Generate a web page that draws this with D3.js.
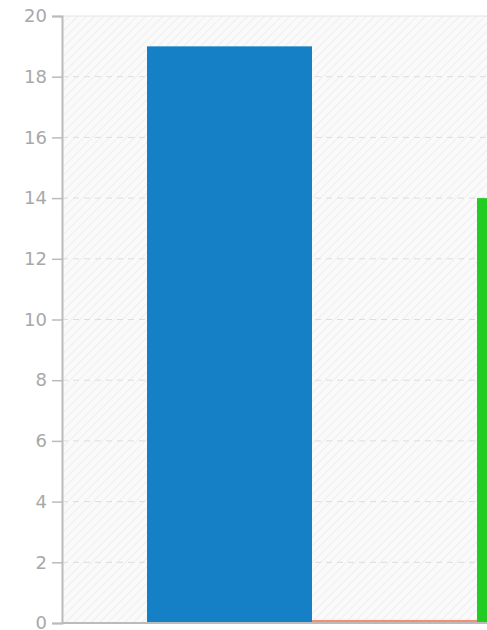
<!DOCTYPE html>
<html><head><meta charset="utf-8">
<script src="https://cdn.jsdelivr.net/npm/d3@7"></script>
<style>html,body{margin:0;padding:0;background:#fff;overflow:hidden}</style>
</head><body>
<script>
const categories = ["A", "B", "C"];
const values = [19, 0.1, 14];
const colors = ["#1580c6", "#f0907a", "#22cc22"];
const yTicks = [0, 2, 4, 6, 8, 10, 12, 14, 16, 18, 20];

(function () {
const W = 487, H = 630;
const svg = d3.select("body").append("svg").attr("width", W).attr("height", H);
const mLeft = 62, mTop = 16, mBottom = 623, rightExt = 727;

const defs = svg.append("defs");
const pat = defs.append("pattern").attr("id", "hatch").attr("patternUnits", "userSpaceOnUse")
  .attr("width", 6).attr("height", 6).attr("patternTransform", "rotate(45)");
pat.append("rect").attr("width", 6).attr("height", 6).attr("fill", "#fafafa");
pat.append("line").attr("x1", 0).attr("y1", 0).attr("x2", 0).attr("y2", 6)
  .attr("stroke", "#eeeeee").attr("stroke-width", 2);

const x = d3.scaleBand().domain(categories).range([mLeft, rightExt]).paddingInner(0).paddingOuter(85 / 165);
const y = d3.scaleLinear().domain([0, 20]).range([mBottom, mTop]);

svg.append("rect").attr("x", mLeft).attr("y", mTop).attr("width", rightExt - mLeft).attr("height", mBottom - mTop)
  .attr("fill", "url(#hatch)");

// grid
svg.append("g").selectAll("line").data(yTicks.filter(d => d > 0 && d < 20)).join("line")
  .attr("x1", mLeft).attr("x2", rightExt).attr("y1", d => y(d)).attr("y2", d => y(d))
  .attr("stroke", "#dddddd").attr("stroke-width", 1).attr("stroke-dasharray", "6,5");
svg.append("line").attr("x1", mLeft).attr("x2", rightExt).attr("y1", y(20)).attr("y2", y(20))
  .attr("stroke", "#e4e4e4").attr("stroke-width", 1);

// bars
svg.append("g").selectAll("rect").data(categories).join("rect")
  .attr("x", d => x(d)).attr("width", x.bandwidth())
  .attr("y", (d, i) => y(values[i])).attr("height", (d, i) => y(0) - y(values[i]))
  .attr("fill", (d, i) => colors[i]);

// y axis
const ax = svg.append("g").attr("transform", `translate(${mLeft},0)`)
  .call(d3.axisLeft(y).tickValues(yTicks).tickSize(10).tickPadding(5));
ax.select(".domain").attr("stroke", "#bbbbbb").attr("stroke-width", 2);
ax.selectAll(".tick line").attr("stroke", "#bbbbbb").attr("stroke-width", 1.5);
ax.selectAll(".tick text").attr("fill", "#a8a8a8").style("font-family", "DejaVu Sans")
  .style("font-size", "18px");

// x axis line
svg.append("line").attr("x1", mLeft).attr("x2", rightExt).attr("y1", mBottom).attr("y2", mBottom)
  .attr("stroke", "#bbbbbb").attr("stroke-width", 2);
})();
</script>
</body></html>
